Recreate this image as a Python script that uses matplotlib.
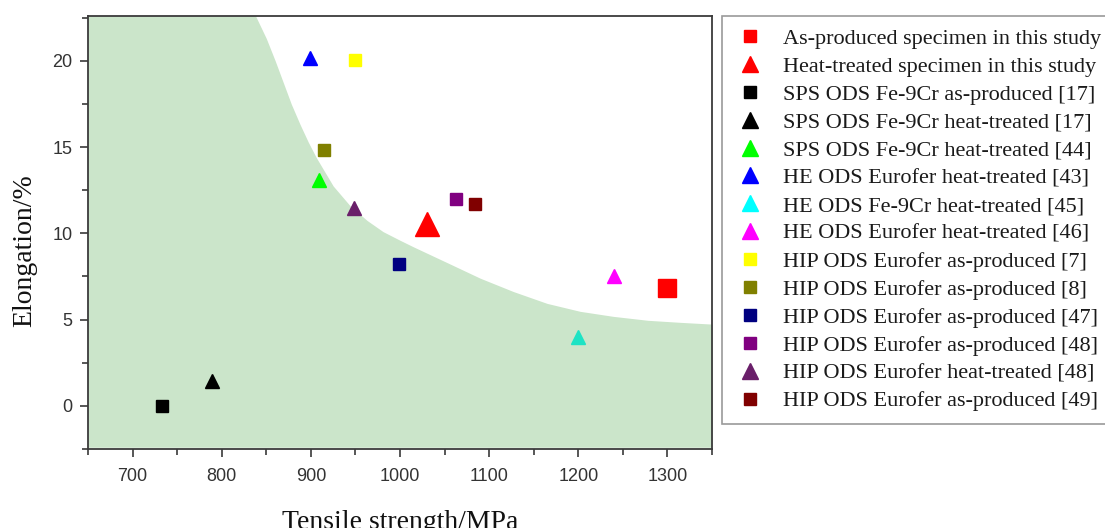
import matplotlib.pyplot as plt
from matplotlib.lines import Line2D

# tensile strength (MPa) / elongation (%) for each data set
labels = [
    "As-produced specimen in this study",
    "Heat-treated specimen in this study",
    "SPS ODS Fe-9Cr as-produced [17]",
    "SPS ODS Fe-9Cr heat-treated [17]",
    "SPS ODS Fe-9Cr heat-treated [44]",
    "HE ODS Eurofer heat-treated [43]",
    "HE ODS Fe-9Cr heat-treated [45]",
    "HE ODS Eurofer heat-treated [46]",
    "HIP ODS Eurofer as-produced [7]",
    "HIP ODS Eurofer as-produced [8]",
    "HIP ODS Eurofer as-produced [47]",
    "HIP ODS Eurofer as-produced [48]",
    "HIP ODS Eurofer heat-treated [48]",
    "HIP ODS Eurofer as-produced [49]",
]
strength = [1300, 1030, 733, 789, 909, 899, 1200, 1240, 949, 915, 999, 1063, 948, 1084]
elongation = [6.85, 10.55, 0.0, 1.45, 13.1, 20.15, 4.0, 7.55, 20.05, 14.85, 8.2, 12.0, 11.45, 11.7]
markers = ["s", "^", "s", "^", "^", "^", "^", "^", "s", "s", "s", "s", "^", "s"]
colors = ["#ff0000", "#ff0000", "#000000", "#000000", "#00ff00", "#0000ff", "#1de3c4",
          "#ff00ff", "#ffff00", "#808000", "#000080", "#800080", "#6a1f6a", "#800000"]
legend_colors = list(colors)
legend_colors[6] = "#00ffff"
sizes = [13, 17, 8, 10.5, 10.5, 10.5, 10.5, 10.5, 8, 8, 8, 8, 10.5, 8]

# edge of the shaded band
band_x = [838, 850, 860, 869, 878, 888, 897, 906, 925, 944, 963, 981, 1000, 1015,
          1053, 1090, 1127, 1165, 1202, 1239, 1278, 1315, 1350]
band_y = [22.6, 21.3, 20.0, 18.75, 17.5, 16.3, 15.3, 14.4, 12.75, 11.6, 10.75, 10.1,
          9.6, 9.22, 8.3, 7.4, 6.63, 5.94, 5.48, 5.19, 4.96, 4.84, 4.74]

fig = plt.figure(figsize=(11.05, 5.28), dpi=100)
ax = fig.add_axes([88 / 1105, 1 - 449 / 528, 624 / 1105, 433 / 528])

ax.fill_between([650] + band_x, [22.6] + band_y, -2.4, color="#cbe5ca", lw=0, zorder=0)

handles = []
for x, y, m, c, lc, s, lab in zip(strength, elongation, markers, colors, legend_colors, sizes, labels):
    ax.plot([x], [y], ls="none", marker=m, ms=s, color=c, mec=c, zorder=3)
    hs = 8 if m == "s" else 11
    handles.append(Line2D([], [], ls="none", marker=m, ms=hs, color=lc, mec=lc, label=lab))

ax.set_xlim(650, 1350)
ax.set_ylim(-2.4, 22.6)
ax.set_xticks([700, 800, 900, 1000, 1100, 1200, 1300])
ax.set_xticks([650, 750, 850, 950, 1050, 1150, 1250, 1350], minor=True)
ax.set_yticks([0, 5, 10, 15, 20])
ax.set_yticks([-2.5, 2.5, 7.5, 12.5, 17.5, 22.5], minor=True)

for sp in ax.spines.values():
    sp.set_color("#3a3a3a")
    sp.set_linewidth(1.3)
ax.tick_params(which="both", direction="out", colors="#3a3a3a", width=1.2,
               top=False, right=False)
ax.tick_params(which="major", length=6, labelsize=13, labelcolor="#333333")
ax.tick_params(axis="x", which="major", pad=8)
ax.tick_params(axis="y", which="major", pad=5)
ax.tick_params(which="minor", length=4)
for t in ax.get_xticklabels() + ax.get_yticklabels():
    t.set_family("Liberation Sans")

ax.set_xlabel("Tensile strength/MPa", family="Liberation Serif", fontsize=20, color="#111111")
ax.set_ylabel("Elongation/%", family="Liberation Serif", fontsize=20, color="#111111")
ax.xaxis.set_label_coords(0.5, -0.14)
ax.yaxis.set_label_coords(-0.082, 0.457)

leg = fig.legend(handles=handles, loc="upper left",
                 bbox_to_anchor=(722 / 1105, 1 - 16 / 528), bbox_transform=fig.transFigure,
                 borderaxespad=0, fancybox=False, edgecolor="#9a9a9a", framealpha=1,
                 prop={"family": "Liberation Serif", "size": 16},
                 numpoints=1, handlelength=1.4, handletextpad=0.8,
                 borderpad=0.55, labelspacing=0.33)
leg.get_frame().set_linewidth(1.2)
for t in leg.get_texts():
    t.set_color("#1a1a1a")

fig.savefig("out.png", dpi=100)
